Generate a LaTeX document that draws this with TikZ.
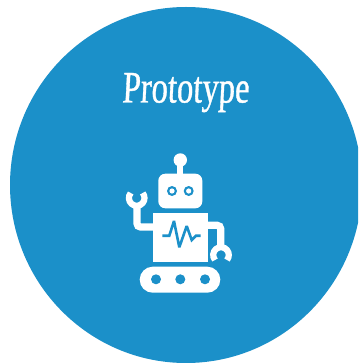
\documentclass[tikz,border=0pt]{standalone}
\usepackage{fontspec}
\usepackage{graphicx}
\setmainfont{Liberation Serif}
\newfontfamily\brushfont[FakeSlant=0.07,FakeBold=1]{Liberation Serif}
\definecolor{discblue}{HTML}{1B90C9}
\tikzset{
  wht/.style={fill=white,draw=none},
  limb/.style={draw=white,line width=7.2pt,rounded corners=3.5pt},
  claw/.style={draw=white,line width=6.2pt,line cap=butt},
  pulse/.style={draw=discblue,line width=2.6pt,line join=miter,miter limit=3},
  lbl/.style={text=white,inner sep=0pt}
}
\begin{document}
\begin{tikzpicture}[x=1pt,y=-1pt]
\useasboundingbox (0,0) rectangle (358,363);
\clip (0,0) rectangle (358,363);
\fill[white] (0,0) rectangle (358,363);
\fill[discblue] (186,185) ellipse[x radius=176,y radius=178];
\node[lbl,anchor=base] (title) at (185.5,102.5) {\resizebox{127pt}{29.5pt}{\brushfont Prototype}};
% antenna and head
\fill[wht] (180.3,160) circle[radius=6.7];
\fill[wht] (177.3,160) rectangle (183.3,176);
\fill[wht,rounded corners=7pt] (158.3,173.7) rectangle (202.3,208.3);
\foreach \ex in {172,188.7}{
  \fill[discblue] (\ex,191) circle[radius=5];
  \fill[white] (\ex,191) circle[radius=2.6];
}
% body
\fill[wht] (153.3,213.3) rectangle (207.7,261.7);
\draw[pulse] (162.3,235.7) -- (169.3,235.7) -- (174,221) -- (179.3,247.3) -- (186.7,226) -- (191.7,240) -- (196,235.7) -- (200.7,235.7);
% arms
\draw[limb] (155,227) -- (137,227) -- (137,203);
\draw[limb] (206,225.3) -- (220.7,225.3) -- (220.7,248);
% claws
\draw[claw] (136.7,198) ++(-5.97,-5.01) arc[start angle=220,end angle=-40,radius=7.8];
\draw[claw] (221,255) ++(-5.97,5.01) arc[start angle=140,end angle=400,radius=7.8];
% tracks
\fill[wht,rounded corners=13pt] (139.7,266.7) rectangle (220.3,292.7);
\foreach \wx in {156,180.3,205}{
  \fill[discblue] (\wx,279.3) circle[radius=5];
}
\end{tikzpicture}
\end{document}
